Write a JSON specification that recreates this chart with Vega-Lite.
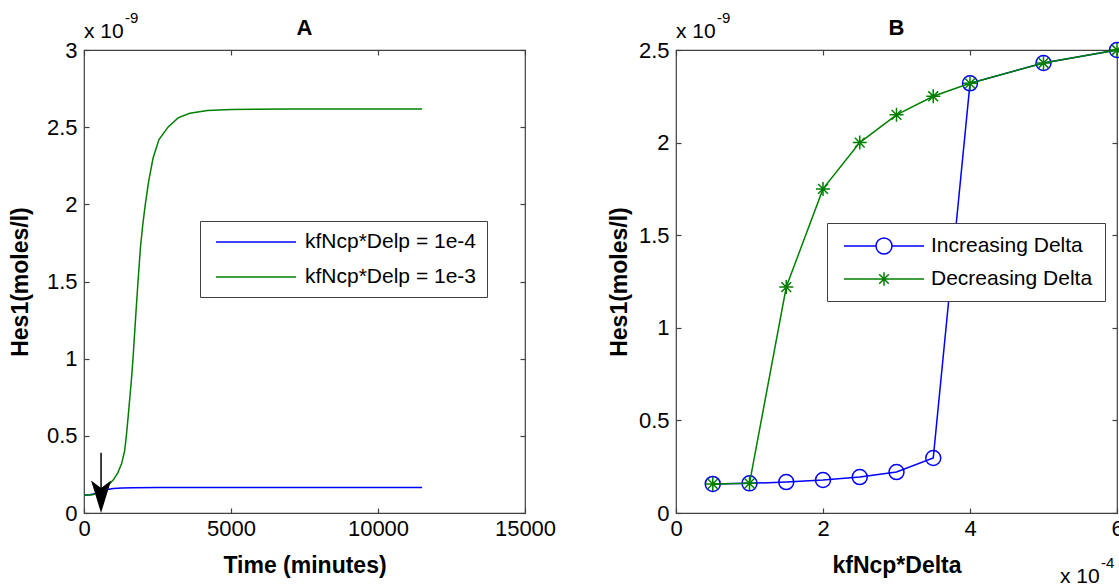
{
  "$schema": "https://vega.github.io/schema/vega-lite/v6.json",
  "autosize": {"type": "pad"},
  "padding": {"left": 8, "top": 10, "right": 0, "bottom": 0},
  "background": "white",
  "spacing": 151,
  "bounds": "flush",
  "datasets": {
    "timeA": [
      {"t": 0, "v": 0.115, "series": "kfNcp*Delp = 1e-4"},
      {"t": 200, "v": 0.118, "series": "kfNcp*Delp = 1e-4"},
      {"t": 400, "v": 0.126, "series": "kfNcp*Delp = 1e-4"},
      {"t": 600, "v": 0.14, "series": "kfNcp*Delp = 1e-4"},
      {"t": 800, "v": 0.152, "series": "kfNcp*Delp = 1e-4"},
      {"t": 1000, "v": 0.158, "series": "kfNcp*Delp = 1e-4"},
      {"t": 1300, "v": 0.162, "series": "kfNcp*Delp = 1e-4"},
      {"t": 1700, "v": 0.164, "series": "kfNcp*Delp = 1e-4"},
      {"t": 2500, "v": 0.165, "series": "kfNcp*Delp = 1e-4"},
      {"t": 11500, "v": 0.165, "series": "kfNcp*Delp = 1e-4"},
      {"t": 0, "v": 0.115, "series": "kfNcp*Delp = 1e-3"},
      {"t": 300, "v": 0.118, "series": "kfNcp*Delp = 1e-3"},
      {"t": 600, "v": 0.14, "series": "kfNcp*Delp = 1e-3"},
      {"t": 800, "v": 0.175, "series": "kfNcp*Delp = 1e-3"},
      {"t": 1000, "v": 0.215, "series": "kfNcp*Delp = 1e-3"},
      {"t": 1150, "v": 0.26, "series": "kfNcp*Delp = 1e-3"},
      {"t": 1280, "v": 0.32, "series": "kfNcp*Delp = 1e-3"},
      {"t": 1380, "v": 0.4, "series": "kfNcp*Delp = 1e-3"},
      {"t": 1440, "v": 0.5, "series": "kfNcp*Delp = 1e-3"},
      {"t": 1500, "v": 0.62, "series": "kfNcp*Delp = 1e-3"},
      {"t": 1560, "v": 0.75, "series": "kfNcp*Delp = 1e-3"},
      {"t": 1620, "v": 0.88, "series": "kfNcp*Delp = 1e-3"},
      {"t": 1667, "v": 1.0, "series": "kfNcp*Delp = 1e-3"},
      {"t": 1750, "v": 1.25, "series": "kfNcp*Delp = 1e-3"},
      {"t": 1837, "v": 1.5, "series": "kfNcp*Delp = 1e-3"},
      {"t": 1920, "v": 1.72, "series": "kfNcp*Delp = 1e-3"},
      {"t": 2000, "v": 1.87, "series": "kfNcp*Delp = 1e-3"},
      {"t": 2086, "v": 2.0, "series": "kfNcp*Delp = 1e-3"},
      {"t": 2200, "v": 2.15, "series": "kfNcp*Delp = 1e-3"},
      {"t": 2350, "v": 2.3, "series": "kfNcp*Delp = 1e-3"},
      {"t": 2550, "v": 2.42, "series": "kfNcp*Delp = 1e-3"},
      {"t": 2857, "v": 2.5, "series": "kfNcp*Delp = 1e-3"},
      {"t": 3200, "v": 2.56, "series": "kfNcp*Delp = 1e-3"},
      {"t": 3600, "v": 2.59, "series": "kfNcp*Delp = 1e-3"},
      {"t": 4200, "v": 2.608, "series": "kfNcp*Delp = 1e-3"},
      {"t": 5000, "v": 2.615, "series": "kfNcp*Delp = 1e-3"},
      {"t": 7000, "v": 2.617, "series": "kfNcp*Delp = 1e-3"},
      {"t": 11500, "v": 2.617, "series": "kfNcp*Delp = 1e-3"}
    ],
    "deltaB": [
      {"k": 0.5, "v": 0.157, "series": "Increasing Delta"},
      {"k": 1, "v": 0.16, "series": "Increasing Delta"},
      {"k": 1.5, "v": 0.167, "series": "Increasing Delta"},
      {"k": 2, "v": 0.178, "series": "Increasing Delta"},
      {"k": 2.5, "v": 0.194, "series": "Increasing Delta"},
      {"k": 3, "v": 0.221, "series": "Increasing Delta"},
      {"k": 3.5, "v": 0.297, "series": "Increasing Delta"},
      {"k": 4, "v": 2.32, "series": "Increasing Delta"},
      {"k": 5, "v": 2.43, "series": "Increasing Delta"},
      {"k": 6, "v": 2.5, "series": "Increasing Delta"},
      {"k": 0.5, "v": 0.157, "series": "Decreasing Delta"},
      {"k": 1, "v": 0.16, "series": "Decreasing Delta"},
      {"k": 1.5, "v": 1.22, "series": "Decreasing Delta"},
      {"k": 2, "v": 1.75, "series": "Decreasing Delta"},
      {"k": 2.5, "v": 2.0, "series": "Decreasing Delta"},
      {"k": 3, "v": 2.15, "series": "Decreasing Delta"},
      {"k": 3.5, "v": 2.25, "series": "Decreasing Delta"},
      {"k": 4, "v": 2.32, "series": "Decreasing Delta"},
      {"k": 5, "v": 2.43, "series": "Decreasing Delta"},
      {"k": 6, "v": 2.5, "series": "Decreasing Delta"}
    ],
    "arrowA": [{"t": 580, "top": 0.39, "bot": 0.12, "head": 0.104}],
    "expA": [{"base": "x 10", "sup": "-9"}],
    "expB": [{"base": "x 10", "sup": "-4"}]
  },
  "hconcat": [
    {
      "width": 441,
      "height": 463,
      "title": {"text": "A"},
      "layer": [
        {
          "data": {"name": "timeA"},
          "mark": {"type": "line", "strokeWidth": 1.5},
          "encoding": {
            "x": {"field": "t", "type": "quantitative", "scale": {"domain": [0, 15000]},
              "axis": {"orient": "bottom", "values": [0, 5000, 10000, 15000], "format": "d", "title": "Time (minutes)", "labelPadding": 10, "titlePadding": 15}},
            "y": {"field": "v", "type": "quantitative", "scale": {"domain": [0, 3]},
              "axis": {"orient": "left", "values": [0, 0.5, 1, 1.5, 2, 2.5, 3], "format": "~g", "title": "Hes1(moles/l)", "labelPadding": 12, "titlePadding": 14}},
            "color": {"field": "series", "type": "nominal",
              "scale": {"domain": ["kfNcp*Delp = 1e-4", "kfNcp*Delp = 1e-3"], "range": ["#0000ff", "#008000"]},
              "legend": {"orient": "none", "legendX": 116, "legendY": 171, "title": null, "padding": 10, "symbolOffset": 35, "labelOffset": 38, "rowPadding": 14, "symbolSize": 400, "symbolStrokeWidth": 1.5,
                "symbolType": "M-4,0L4,0"}}
          }
        },
        {
          "data": {"name": "arrowA"},
          "mark": {"type": "rule", "color": "#000000", "strokeWidth": 1.5},
          "encoding": {
            "x": {"field": "t", "type": "quantitative", "scale": {"domain": [0, 15000]},
              "axis": {"orient": "top", "values": [0, 5000, 10000, 15000], "labels": false, "title": null}},
            "y": {"field": "top", "type": "quantitative", "scale": {"domain": [0, 3]},
              "axis": {"orient": "right", "values": [0, 0.5, 1, 1.5, 2, 2.5, 3], "labels": false, "title": null}},
            "y2": {"field": "bot"}
          }
        },
        {
          "data": {"name": "arrowA"},
          "mark": {"type": "point", "shape": "M0,1.6L-1,-1.65L0,-0.9L1,-1.65Z", "filled": true, "color": "#000000", "size": 400, "opacity": 1, "strokeWidth": 0},
          "encoding": {
            "x": {"field": "t", "type": "quantitative", "scale": {"domain": [0, 15000]}, "axis": null},
            "y": {"field": "head", "type": "quantitative", "scale": {"domain": [0, 3]}, "axis": null}
          }
        },
        {
          "data": {"name": "expA"},
          "mark": {"type": "text", "align": "left", "baseline": "alphabetic", "fontSize": 21, "dy": -12, "color": "#000000"},
          "encoding": {
            "x": {"datum": 0, "type": "quantitative", "scale": {"domain": [0, 15000]}, "axis": null},
            "y": {"datum": 3, "type": "quantitative", "scale": {"domain": [0, 3]}, "axis": null},
            "text": {"field": "base"}
          }
        },
        {
          "data": {"name": "expA"},
          "mark": {"type": "text", "align": "left", "baseline": "alphabetic", "fontSize": 15, "dx": 41, "dy": -27, "color": "#000000"},
          "encoding": {
            "x": {"datum": 0, "type": "quantitative", "scale": {"domain": [0, 15000]}, "axis": null},
            "y": {"datum": 3, "type": "quantitative", "scale": {"domain": [0, 3]}, "axis": null},
            "text": {"field": "sup"}
          }
        }
      ],
      "resolve": {"axis": {"x": "independent", "y": "independent"}}
    },
    {
      "width": 441,
      "height": 463,
      "title": {"text": "B"},
      "layer": [
        {
          "data": {"name": "deltaB"},
          "transform": [{"filter": "datum.series == 'Increasing Delta'"}],
          "mark": {"type": "line", "strokeWidth": 1.5},
          "encoding": {
            "x": {"field": "k", "type": "quantitative", "scale": {"domain": [0, 6]},
              "axis": {"orient": "bottom", "values": [0, 2, 4, 6], "format": "d", "title": "kfNcp*Delta", "labelPadding": 10, "titlePadding": 15}},
            "y": {"field": "v", "type": "quantitative", "scale": {"domain": [0, 2.5]},
              "axis": {"orient": "left", "values": [0, 0.5, 1, 1.5, 2, 2.5], "format": "~g", "title": "Hes1(moles/l)", "labelPadding": 12, "titlePadding": 7}},
            "color": {"field": "series", "type": "nominal",
              "scale": {"domain": ["Increasing Delta", "Decreasing Delta"], "range": ["#0000ff", "#008000"]},
              "legend": {"orient": "none", "legendX": 151, "legendY": 173, "title": null, "padding": 12, "symbolOffset": 34, "labelOffset": 36, "rowPadding": 11, "symbolType": "stroke", "symbolSize": 400, "symbolStrokeWidth": 1.5,
                "encode": {"symbols": {"update": {"fill": {"value": "transparent"}, "shape": {"signal": "datum.value == 'Increasing Delta' ? 'M-4,0L-0.8,0M0.8,0L4,0M-0.8,0A0.8,0.8 0 1,0 0.8,0A0.8,0.8 0 1,0 -0.8,0' : 'M-4,0L4,0M0,-0.68L0,0.68M-0.48,-0.48L0.48,0.48M-0.48,0.48L0.48,-0.48'"}}}}}}
          }
        },
        {
          "data": {"name": "deltaB"},
          "transform": [{"filter": "datum.series == 'Increasing Delta'"}],
          "mark": {"type": "point", "shape": "circle", "filled": false, "size": 225, "strokeWidth": 1.5, "color": "#0000ff", "opacity": 1},
          "encoding": {
            "x": {"field": "k", "type": "quantitative", "scale": {"domain": [0, 6]},
              "axis": {"orient": "top", "values": [0, 2, 4, 6], "labels": false, "title": null}},
            "y": {"field": "v", "type": "quantitative", "scale": {"domain": [0, 2.5]},
              "axis": {"orient": "right", "values": [0, 0.5, 1, 1.5, 2, 2.5], "labels": false, "title": null}}
          }
        },
        {
          "data": {"name": "deltaB"},
          "transform": [{"filter": "datum.series == 'Decreasing Delta'"}],
          "mark": {"type": "line", "strokeWidth": 1.5},
          "encoding": {
            "x": {"field": "k", "type": "quantitative", "scale": {"domain": [0, 6]}, "axis": null},
            "y": {"field": "v", "type": "quantitative", "scale": {"domain": [0, 2.5]}, "axis": null},
            "color": {"field": "series", "type": "nominal",
              "scale": {"domain": ["Increasing Delta", "Decreasing Delta"], "range": ["#0000ff", "#008000"]},
              "legend": {"orient": "none", "legendX": 151, "legendY": 173, "title": null, "padding": 12, "symbolOffset": 34, "labelOffset": 36, "rowPadding": 11, "symbolType": "stroke", "symbolSize": 400, "symbolStrokeWidth": 1.5,
                "encode": {"symbols": {"update": {"fill": {"value": "transparent"}, "shape": {"signal": "datum.value == 'Increasing Delta' ? 'M-4,0L-0.8,0M0.8,0L4,0M-0.8,0A0.8,0.8 0 1,0 0.8,0A0.8,0.8 0 1,0 -0.8,0' : 'M-4,0L4,0M0,-0.68L0,0.68M-0.48,-0.48L0.48,0.48M-0.48,0.48L0.48,-0.48'"}}}}}}
          }
        },
        {
          "data": {"name": "deltaB"},
          "transform": [{"filter": "datum.series == 'Decreasing Delta'"}],
          "mark": {"type": "point", "shape": "M-1,0L1,0M0,-1L0,1M-0.7,-0.7L0.7,0.7M-0.7,0.7L0.7,-0.7", "filled": false, "size": 196, "strokeWidth": 1.5, "color": "#008000", "opacity": 1},
          "encoding": {
            "x": {"field": "k", "type": "quantitative", "scale": {"domain": [0, 6]}, "axis": null},
            "y": {"field": "v", "type": "quantitative", "scale": {"domain": [0, 2.5]}, "axis": null}
          }
        },
        {
          "data": {"name": "expA"},
          "mark": {"type": "text", "align": "left", "baseline": "alphabetic", "fontSize": 21, "dy": -12, "color": "#000000"},
          "encoding": {
            "x": {"datum": 0, "type": "quantitative", "scale": {"domain": [0, 6]}, "axis": null},
            "y": {"datum": 2.5, "type": "quantitative", "scale": {"domain": [0, 2.5]}, "axis": null},
            "text": {"field": "base"}
          }
        },
        {
          "data": {"name": "expA"},
          "mark": {"type": "text", "align": "left", "baseline": "alphabetic", "fontSize": 15, "dx": 41, "dy": -27, "color": "#000000"},
          "encoding": {
            "x": {"datum": 0, "type": "quantitative", "scale": {"domain": [0, 6]}, "axis": null},
            "y": {"datum": 2.5, "type": "quantitative", "scale": {"domain": [0, 2.5]}, "axis": null},
            "text": {"field": "sup"}
          }
        },
        {
          "data": {"name": "expB"},
          "mark": {"type": "text", "align": "left", "baseline": "alphabetic", "fontSize": 21, "dx": -57, "dy": 70, "color": "#000000"},
          "encoding": {
            "x": {"datum": 6, "type": "quantitative", "scale": {"domain": [0, 6]}, "axis": null},
            "y": {"datum": 0, "type": "quantitative", "scale": {"domain": [0, 2.5]}, "axis": null},
            "text": {"field": "base"}
          }
        },
        {
          "data": {"name": "expB"},
          "mark": {"type": "text", "align": "left", "baseline": "alphabetic", "fontSize": 15, "dx": -16, "dy": 55, "color": "#000000"},
          "encoding": {
            "x": {"datum": 6, "type": "quantitative", "scale": {"domain": [0, 6]}, "axis": null},
            "y": {"datum": 0, "type": "quantitative", "scale": {"domain": [0, 2.5]}, "axis": null},
            "text": {"field": "sup"}
          }
        }
      ],
      "resolve": {"axis": {"x": "independent", "y": "independent"}}
    }
  ],
  "resolve": {
    "scale": {"x": "independent", "y": "independent", "color": "independent"},
    "legend": {"color": "independent"}
  },
  "config": {
    "font": "Liberation Sans",
    "view": {"stroke": "#404040", "strokeWidth": 1.2},
    "axis": {"domain": false, "grid": false, "ticks": true, "tickSize": -5, "tickColor": "#404040", "tickWidth": 1.2,
      "labelFontSize": 22, "labelColor": "#000000", "labelFont": "Liberation Sans", "labelFlush": false, "labelOverlap": false, "labelBound": false,
      "titleFontSize": 23, "titleFontWeight": "bold", "titleColor": "#000000", "titleFont": "Liberation Sans"},
    "title": {"fontSize": 22, "fontWeight": "bold", "color": "#000000", "font": "Liberation Sans", "anchor": "middle", "frame": "group", "offset": -29},
    "legend": {"labelFontSize": 21, "labelFont": "Liberation Sans", "labelColor": "#000000", "labelLimit": 400, "strokeColor": "#404040", "fillColor": "#ffffff"}
  }
}
